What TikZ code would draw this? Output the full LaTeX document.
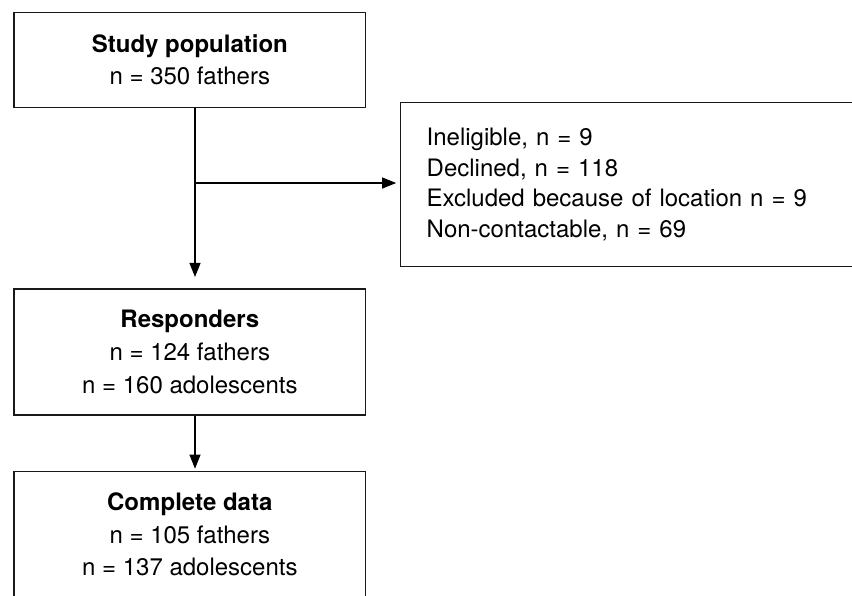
\documentclass[tikz,border=0pt]{standalone}
\usepackage{fontspec}
\setmainfont{TeX Gyre Heros}
\usetikzlibrary{arrows.meta}
\begin{document}
\begin{tikzpicture}[x=1pt,y=-1pt,
  box/.style={draw=black!90, line width=1.1pt, inner xsep=0pt, inner ysep=0pt,
    align=center, minimum width=351.7pt},
  conn/.style={draw=black, line width=1.1pt, -{Triangle[length=14pt,width=11pt]}}]
\clip (0,0) rectangle (852,595);
\fill[white] (0,0) rectangle (852,595);
\node[box, minimum height=95pt, font=\fontsize{24}{31.6}\selectfont] (study) at (189.85,59.8)
  {\textbf{Study population}\\n = 350 fathers};
\node[box, minimum height=126pt, font=\fontsize{24}{32.8}\selectfont] (resp) at (189.85,352)
  {\textbf{Responders}\\n = 124 fathers\\n = 160 adolescents};
\node[box, minimum height=126pt, font=\fontsize{24}{32.5}\selectfont] (compl) at (189.85,534.7)
  {\textbf{Complete data}\\n = 105 fathers\\n = 137 adolescents};
\node[draw=black!90, line width=1.1pt, inner xsep=26pt, inner ysep=0pt,
  text width=427.3pt, align=left, minimum height=164.4pt,
  font=\fontsize{24}{30.5}\selectfont] (excl) at (640.35,184.5)
  {Ineligible, n = 9\\Declined, n = 118\\Excluded because of location n = 9\\Non-contactable, n = 69};
\coordinate (spine) at (195,0);
\coordinate (branch) at (195,183);
\draw[conn, shorten >=11.5pt] (study.south -| spine) -- (resp.north -| spine);
\draw[conn, shorten >=4pt] (branch) -- (branch -| excl.west);
\draw[conn, shorten >=2.5pt] (resp.south -| spine) -- (compl.north -| spine);
\end{tikzpicture}
\end{document}
